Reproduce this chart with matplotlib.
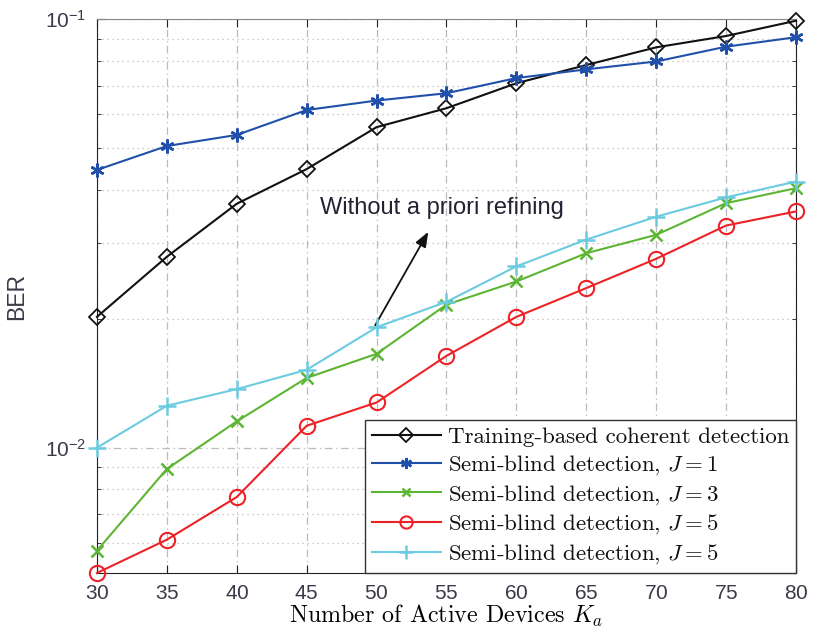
import matplotlib
matplotlib.use("Agg")
import matplotlib.pyplot as plt
from matplotlib.ticker import LogLocator, NullFormatter

plt.rcParams['mathtext.fontset'] = 'cm'
plt.rcParams['axes.formatter.use_mathtext'] = True

# Number of active devices
Ka = [30, 35, 40, 45, 50, 55, 60, 65, 70, 75, 80]

# BER curves
ber_training = [0.0202, 0.0279, 0.0371, 0.0447, 0.0560, 0.0620, 0.0709, 0.0782, 0.0860, 0.0914, 0.0992]
ber_j1 = [0.0445, 0.0506, 0.0537, 0.0614, 0.0646, 0.0672, 0.0729, 0.0764, 0.0797, 0.0863, 0.0908]
ber_j3 = [0.00575, 0.00892, 0.01152, 0.01455, 0.01656, 0.02157, 0.02443, 0.02844, 0.03139, 0.03722, 0.04034]
ber_j5 = [0.00510, 0.00610, 0.00767, 0.01125, 0.01275, 0.01638, 0.02020, 0.02358, 0.02760, 0.03300, 0.03560]
ber_j5_nopri = [0.0100, 0.01253, 0.0137, 0.0152, 0.0191, 0.0219, 0.0265, 0.0306, 0.0346, 0.0384, 0.0418]

labels = ["Training-based coherent detection",
          r"Semi-blind detection, $J=1$",
          r"Semi-blind detection, $J=3$",
          r"Semi-blind detection, $J=5$",
          r"Semi-blind detection, $J=5$"]

fig = plt.figure(figsize=(8.21, 6.36), dpi=100)
ax = fig.add_axes([0.1181, 0.0991, 0.8514, 0.8706])

sans = 'Liberation Sans'
serif = 'cmr10'
tick_col = '#3a3a48'

ax.semilogy(Ka, ber_training, '-', color='#111111', marker='D', markersize=8.5,
            markerfacecolor='none', markeredgewidth=1.3, lw=1.5, label=labels[0], clip_on=False, zorder=5)
ax.semilogy(Ka, ber_j1, '-', color='#2150aa', marker=(6, 2, 0), markersize=10,
            markeredgewidth=1.8, lw=1.5, label=labels[1], clip_on=False, zorder=5)
ax.semilogy(Ka, ber_j3, '-', color='#5db534', marker='x', markersize=8,
            markeredgewidth=1.8, lw=1.5, label=labels[2], clip_on=False, zorder=5)
ax.semilogy(Ka, ber_j5, '-', color='#ec2226', marker='o', markersize=11,
            markerfacecolor='none', markeredgewidth=1.5, lw=1.5, label=labels[3], clip_on=False, zorder=5)
ax.semilogy(Ka, ber_j5_nopri, '-', color='#6ccbe0', marker='+', markersize=13,
            markeredgewidth=1.8, lw=1.5, label=labels[4], clip_on=False, zorder=5)

ax.set_xlim(30, 80)
ax.set_ylim(0.0051, 0.1)
ax.set_xticks(Ka)
ax.yaxis.set_major_locator(LogLocator(base=10, numticks=5))
ax.yaxis.set_minor_locator(LogLocator(base=10, subs=range(2, 10), numticks=20))
ax.yaxis.set_minor_formatter(NullFormatter())

ax.grid(True, which='major', linestyle=(0, (6, 3, 1, 3)), color='#bbbbbb', lw=0.9)
ax.grid(True, which='minor', axis='y', linestyle=(0, (1, 3)), color='#bbbbbb', lw=0.9)

ax.tick_params(which='both', direction='in', top=True, right=True, colors='#222222', labelcolor=tick_col)
ax.tick_params(which='major', length=6, labelsize=15, pad=8)
ax.tick_params(which='minor', length=3)
for lab in ax.get_xticklabels() + ax.get_yticklabels():
    lab.set_fontfamily(sans)

for side in ['left', 'bottom', 'right']:
    ax.spines[side].set_color('#222222')
ax.spines['top'].set_color('#888888')

ax.set_xlabel(r"Number of Active Devices $K_a$", fontfamily=serif, fontsize=17.3, labelpad=0)
ax.set_ylabel("BER", fontfamily=sans, fontsize=16.5, color=tick_col, labelpad=12)

ax.annotate("", xy=(53.7, 0.0319), xytext=(49.9, 0.0193),
            arrowprops=dict(arrowstyle='-|>,head_length=0.9,head_width=0.35', color='#111111', lw=1.3,
                            shrinkA=0, shrinkB=0))
ax.text(45.95, 0.0363, "Without a priori refining", fontfamily=sans, fontsize=17,
        color='#222233', va='center', ha='left')

leg = ax.legend(loc='lower right', borderaxespad=0, fancybox=False, framealpha=1,
                edgecolor='#333333', prop={'family': serif, 'size': 16.5},
                handlelength=3.0, labelspacing=0.26, borderpad=0.3, handletextpad=0.3,
                markerscale=0.8)
leg.get_frame().set_linewidth(1.0)
for t in leg.get_texts():
    t.set_color('#111111')

fig.savefig("out.png", dpi=100)
